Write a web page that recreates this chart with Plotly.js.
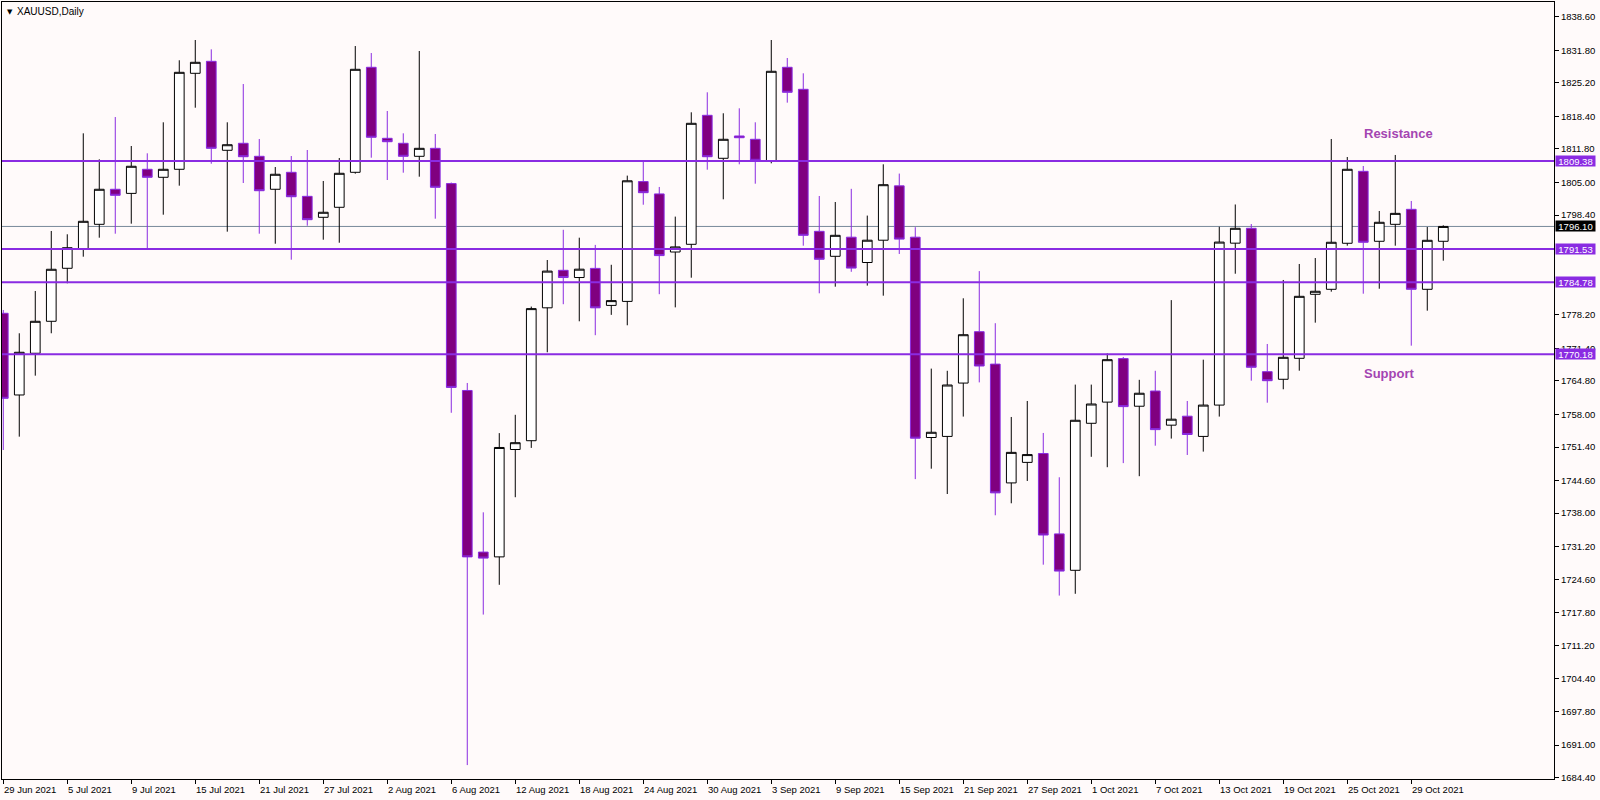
<!DOCTYPE html>
<html>
<head>
<meta charset="utf-8">
<script src="https://cdn.plot.ly/plotly-3.0.1.min.js"></script>
<style>
  html, body { margin: 0; padding: 0; background: #FFFAFA; }
  #chart { width: 1600px; height: 800px; }
</style>
</head>
<body>
<div id="chart"></div>
<script>
// ---- Data (XAUUSD daily) ----
const dates = [
  '2021-06-29','2021-06-30','2021-07-01','2021-07-02','2021-07-05','2021-07-06','2021-07-07','2021-07-08','2021-07-09','2021-07-12',
  '2021-07-13','2021-07-14','2021-07-15','2021-07-16','2021-07-19','2021-07-20','2021-07-21','2021-07-22','2021-07-23','2021-07-26',
  '2021-07-27','2021-07-28','2021-07-29','2021-07-30','2021-08-02','2021-08-03','2021-08-04','2021-08-05','2021-08-06','2021-08-09',
  '2021-08-10','2021-08-11','2021-08-12','2021-08-13','2021-08-16','2021-08-17','2021-08-18','2021-08-19','2021-08-20','2021-08-23',
  '2021-08-24','2021-08-25','2021-08-26','2021-08-27','2021-08-30','2021-08-31','2021-09-01','2021-09-02','2021-09-03','2021-09-06',
  '2021-09-07','2021-09-08','2021-09-09','2021-09-10','2021-09-13','2021-09-14','2021-09-15','2021-09-16','2021-09-17','2021-09-20',
  '2021-09-21','2021-09-22','2021-09-23','2021-09-24','2021-09-27','2021-09-28','2021-09-29','2021-09-30','2021-10-01','2021-10-04',
  '2021-10-05','2021-10-06','2021-10-07','2021-10-08','2021-10-11','2021-10-12','2021-10-13','2021-10-14','2021-10-15','2021-10-18',
  '2021-10-19','2021-10-20','2021-10-21','2021-10-22','2021-10-25','2021-10-26','2021-10-27','2021-10-28','2021-10-29','2021-11-01',
  '2021-11-02'
];
const openP = [
  1778.50,1761.95,1770.40,1776.88,1787.62,1791.59,1796.53,1803.63,1802.80,1807.68,
  1806.06,1807.68,1827.13,1829.56,1811.53,1812.95,1810.31,1803.63,1807.07,1802.20,
  1797.95,1799.98,1807.07,1828.35,1813.96,1812.95,1810.31,1811.93,1804.78,1762.86,
  1730.11,1729.14,1750.90,1752.68,1779.61,1787.21,1785.75,1787.60,1780.10,1780.91,
  1805.19,1802.69,1790.92,1792.48,1818.62,1809.91,1814.43,1813.76,1809.36,1828.35,
  1823.89,1795.11,1790.05,1793.92,1788.79,1793.31,1804.32,1793.92,1753.33,1753.55,
  1764.36,1774.77,1768.20,1744.13,1748.29,1750.09,1733.80,1726.42,1756.21,1760.50,
  1769.32,1759.67,1762.75,1755.83,1757.65,1753.55,1759.90,1792.71,1795.72,1766.67,
  1765.13,1769.38,1782.35,1783.36,1792.69,1807.27,1793.09,1796.53,1799.57,1783.36,
  1793.09
];
const highP = [
  1779.17,1774.45,1783.02,1795.18,1794.51,1814.97,1809.70,1818.27,1812.40,1810.92,
  1817.20,1829.77,1833.88,1831.99,1817.20,1824.96,1813.82,1808.14,1810.37,1811.59,
  1805.31,1809.97,1832.66,1831.24,1819.49,1814.97,1831.65,1814.83,1805.00,1764.38,
  1738.17,1754.22,1757.93,1779.86,1789.30,1795.42,1793.82,1792.36,1788.33,1806.40,
  1809.30,1804.10,1798.09,1819.23,1823.28,1819.03,1820.04,1817.20,1833.88,1830.23,
  1827.13,1802.27,1801.05,1803.72,1798.30,1808.69,1806.81,1795.95,1767.29,1766.85,
  1781.54,1787.05,1776.49,1757.49,1760.73,1754.25,1745.27,1764.05,1764.05,1770.37,
  1769.65,1765.02,1766.85,1781.17,1760.73,1769.10,1796.03,1800.55,1796.59,1772.28,
  1785.25,1788.49,1789.70,1813.82,1810.17,1808.35,1799.23,1810.58,1801.26,1795.99,
  1796.33
];
const lowP = [
  1750.80,1753.50,1765.86,1774.45,1784.58,1789.97,1793.82,1794.63,1796.66,1791.59,
  1798.48,1804.36,1820.16,1808.81,1795.04,1804.90,1794.63,1792.60,1789.36,1796.25,
  1793.41,1792.80,1806.79,1810.03,1805.51,1806.99,1806.18,1797.67,1758.34,1686.95,
  1717.45,1723.48,1741.23,1751.22,1770.60,1780.34,1776.88,1774.06,1778.18,1776.07,
  1800.50,1782.37,1779.70,1785.71,1807.60,1801.60,1808.69,1804.76,1808.89,1821.18,
  1792.20,1782.55,1783.89,1786.91,1784.11,1782.07,1790.52,1744.90,1747.01,1741.88,
  1757.57,1764.50,1737.57,1740.00,1744.52,1727.56,1721.30,1721.66,1749.42,1747.31,
  1748.14,1745.49,1751.67,1753.11,1749.79,1750.47,1757.57,1786.52,1764.84,1760.38,
  1763.10,1766.87,1776.60,1782.88,1792.20,1782.47,1783.48,1792.20,1771.94,1779.03,
  1789.16
];
const closeP = [
  1761.27,1770.60,1776.88,1787.42,1791.79,1797.14,1803.63,1802.41,1808.29,1806.06,
  1807.68,1827.33,1829.36,1811.93,1812.66,1810.23,1803.34,1806.67,1802.12,1797.47,
  1798.97,1806.87,1827.94,1814.17,1813.27,1810.31,1811.93,1804.03,1763.48,1729.14,
  1728.89,1751.31,1752.28,1779.45,1787.05,1785.75,1787.44,1779.61,1781.07,1805.35,
  1802.94,1790.19,1791.95,1817.00,1810.23,1813.76,1814.08,1809.50,1827.54,1823.28,
  1794.30,1789.44,1794.30,1787.66,1793.31,1804.56,1793.53,1753.19,1754.39,1763.97,
  1774.16,1767.82,1742.11,1750.32,1749.87,1733.57,1726.26,1756.82,1760.12,1769.10,
  1759.59,1762.30,1754.93,1757.04,1753.94,1759.90,1792.93,1795.72,1767.56,1764.84,
  1769.58,1781.94,1782.96,1792.89,1807.68,1792.89,1796.94,1798.75,1783.36,1793.29,
  1796.10
];
const levels = [1809.38, 1791.53, 1784.78, 1770.18];
const bidPrice = 1796.10;
const priceTicks = [1838.60,1831.80,1825.20,1818.40,1811.80,1805.00,1798.40,1778.20,
  1771.40,1764.80,1758.00,1751.40,1744.60,1738.00,1731.20,1724.60,1717.80,1711.20,1704.40,1697.80,1691.00,1684.40];
const symbolTitle = 'XAUUSD,Daily';
const zoneLabels = [
  {text: 'Resistance', pos: 87.2, price: 1815.0},
  {text: 'Support', pos: 86.6, price: 1766.4}
];

// ---- Build ----
const idx = dates.map((d, i) => i);
const months = ['Jan','Feb','Mar','Apr','May','Jun','Jul','Aug','Sep','Oct','Nov','Dec'];
function fmtDate(s) {
  const [y, m, d] = s.split('-').map(Number);
  return d + ' ' + months[m - 1] + ' ' + y;
}
const tickIdx = idx.filter(i => i % 4 === 0);

const FONT = 'Liberation Sans, Arial, sans-serif';
const LVL = '#8A2BE2';

const trace = {
  type: 'candlestick',
  x: idx, open: openP, high: highP, low: lowP, close: closeP,
  increasing: {line: {color: '#000000', width: 1}, fillcolor: '#FFFFFF'},
  decreasing: {line: {color: '#8A2BE2', width: 1}, fillcolor: '#800080'},
  whiskerwidth: 0,
  hoverinfo: 'skip',
  showlegend: false
};

const shapes = levels.map(v => ({
  type: 'line', xref: 'paper', x0: 0, x1: 1, yref: 'y', y0: v, y1: v,
  line: {color: LVL, width: 2}, layer: 'above'
}));
shapes.push({
  type: 'line', xref: 'paper', x0: 0, x1: 1, yref: 'y', y0: bidPrice, y1: bidPrice,
  line: {color: '#778899', width: 1}, layer: 'below'
});

const annotations = [];
tickIdx.forEach(i => {
  annotations.push({
    x: i, xref: 'x', y: 0, yref: 'paper', xanchor: 'left', yanchor: 'top',
    xshift: -1, yshift: -3, showarrow: false, text: fmtDate(dates[i]),
    font: {family: FONT, size: 9.5, color: '#000000'}
  });
});
levels.forEach(v => {
  annotations.push({
    x: 1, xref: 'paper', y: v, yref: 'y', xanchor: 'left', yanchor: 'middle',
    xshift: 1, showarrow: false, text: v.toFixed(2), bgcolor: LVL,
    width: 39, height: 10, borderpad: 0, align: 'center',
    font: {family: FONT, size: 9.5, color: '#FFFFFF'}
  });
});
annotations.push({
  x: 1, xref: 'paper', y: bidPrice, yref: 'y', xanchor: 'left', yanchor: 'middle',
  xshift: 1, showarrow: false, text: bidPrice.toFixed(2), bgcolor: '#000000',
  width: 39, height: 10, borderpad: 0, align: 'center',
  font: {family: FONT, size: 9.5, color: '#FFFFFF'}
});
annotations.push({
  x: 0, xref: 'paper', y: 1, yref: 'paper', xanchor: 'left', yanchor: 'top',
  xshift: 3, yshift: -4, showarrow: false, text: '\u25BC',
  font: {family: 'DejaVu Sans', size: 7, color: '#000000'}
});
annotations.push({
  x: 0, xref: 'paper', y: 1, yref: 'paper', xanchor: 'left', yanchor: 'top',
  xshift: 13, yshift: -2, showarrow: false, text: symbolTitle,
  font: {family: FONT, size: 10, color: '#000000'}
});
zoneLabels.forEach(z => {
  annotations.push({
    x: z.pos, xref: 'x', y: z.price, yref: 'y', xanchor: 'center', yanchor: 'middle',
    showarrow: false, text: '<b>' + z.text + '</b>',
    font: {family: FONT, size: 13, color: '#A445B2'}
  });
});

const layout = {
  width: 1600, height: 800,
  margin: {l: 2, r: 46, t: 2, b: 21, pad: 0},
  paper_bgcolor: '#FFFAFA', plot_bgcolor: '#FFFAFA',
  showlegend: false, hovermode: false,
  boxgap: 0.394, boxgroupgap: 0,
  xaxis: {
    range: [-0.08, 96.92], showgrid: false, zeroline: false,
    showline: true, mirror: true, linecolor: '#000000', linewidth: 1,
    ticks: 'outside', ticklen: 4, tickcolor: '#000000', tickwidth: 1,
    tickvals: tickIdx, showticklabels: false,
    rangeslider: {visible: false}, fixedrange: true
  },
  yaxis: {
    side: 'right', range: [1684.13, 1841.58], showgrid: false, zeroline: false,
    showline: true, mirror: true, linecolor: '#000000', linewidth: 1,
    ticks: 'outside', ticklen: 4, tickcolor: '#000000', tickwidth: 1,
    tickvals: priceTicks, tickformat: '.2f',
    tickfont: {family: FONT, size: 9.5, color: '#000000'},
    fixedrange: true
  },
  shapes: shapes,
  annotations: annotations
};

Plotly.newPlot('chart', [trace], layout, {displayModeBar: false, staticPlot: true});
</script>
</body>
</html>
